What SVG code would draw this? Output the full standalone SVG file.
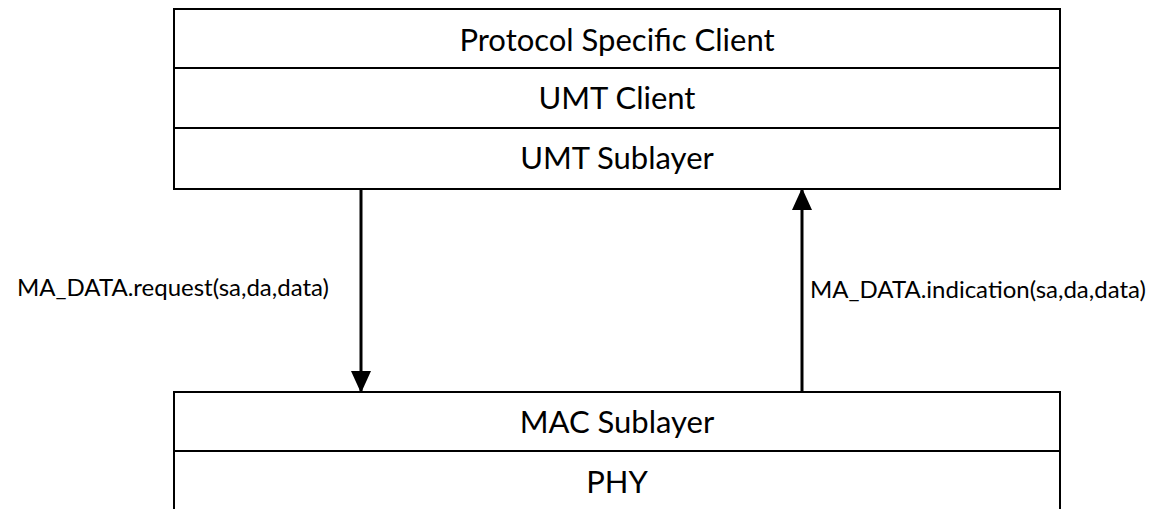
<svg xmlns="http://www.w3.org/2000/svg" width="1168" height="509" viewBox="0 0 1168 509">
<style>
.box{fill:#fff;stroke:#000;stroke-width:2}
.div{stroke:#000;stroke-width:2}
.t{font-family:Lato,"Open Sans",sans-serif;font-size:31px;fill:#000;text-anchor:middle}
.lbl{font-family:Lato,"Open Sans",sans-serif;font-size:24px;fill:#000}
.conn{stroke:#000;stroke-width:3;fill:none}
</style>
<defs>
<marker id="arr" markerUnits="userSpaceOnUse" markerWidth="22" markerHeight="24" refX="20" refY="10" orient="auto" viewBox="0 0 22 20">
<path d="M0,0 L22,10 L0,20 Z" fill="#000"/>
</marker>
</defs>
<g id="upper-stack">
<rect class="box" x="174" y="9" width="886" height="180"/>
<line class="div" x1="174" y1="68" x2="1060" y2="68"/>
<line class="div" x1="174" y1="128" x2="1060" y2="128"/>
<text class="t" x="617" y="51">Protocol Specific Client</text>
<text class="t" x="617" y="109">UMT Client</text>
<text class="t" x="617" y="169">UMT Sublayer</text>
</g>
<g id="lower-stack">
<path class="box" d="M174,509 L174,392 L1060,392 L1060,509"/>
<line class="div" x1="174" y1="451" x2="1060" y2="451"/>
<text class="t" x="617" y="433">MAC Sublayer</text>
<text class="t" x="617" y="493">PHY</text>
</g>
<g id="connectors">
<line class="conn" x1="361" y1="190" x2="361" y2="391" marker-end="url(#arr)"/>
<line class="conn" x1="802" y1="391" x2="802" y2="190" marker-end="url(#arr)"/>
<text class="lbl" x="17" y="296">MA_DATA.request(sa,da,data)</text>
<text class="lbl" x="810" y="298">MA_DATA.indication(sa,da,data)</text>
</g>
</svg>
